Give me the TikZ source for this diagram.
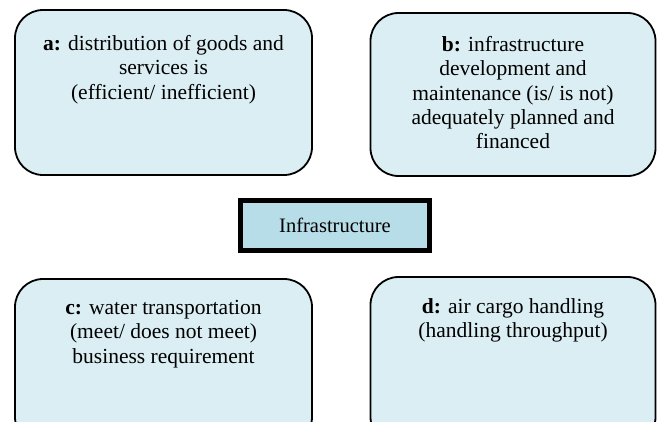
\documentclass[tikz,border=0pt]{standalone}
\usepackage{fontspec}
\setmainfont{Liberation Serif}
\definecolor{panelfill}{HTML}{DBEEF3}
\definecolor{hubfill}{HTML}{B7DDE8}
\begin{document}
\begin{tikzpicture}[x=1pt,y=-1pt,
  panel/.style={draw=black, line width=1.8pt, fill=panelfill, rounded corners=28pt, inner sep=0pt},
  hub/.style={draw=black, line width=5pt, fill=hubfill, inner sep=0pt, font=\fontsize{20.5}{24}\selectfont},
  caption/.style={anchor=north, align=center, inner sep=0pt, font=\fontsize{21.5}{24.3}\selectfont}
]
\useasboundingbox (0,0) rectangle (670,421);
\clip (0,0) rectangle (670,421);

% four question panels
\node[panel, minimum width=297pt, minimum height=165pt] (a) at (163.5,92.5) {};
\node[panel, minimum width=285pt, minimum height=163pt] (b) at (513,94.5) {};
\node[panel, minimum width=297pt, minimum height=166pt] (c) at (163.5,362) {};
\node[panel, minimum width=285pt, minimum height=168pt] (d) at (513,361) {};

% panel texts
\node[caption] (ta) at ([yshift=-26pt]a.north) {\textbf{a:} distribution of goods and\\ services is\\ (efficient/ inefficient)};
\node[caption] (tb) at ([yshift=-24pt]b.north) {\textbf{b:} infrastructure\\ development and\\ maintenance (is/ is not)\\ adequately planned and\\ financed};
\node[caption] (tc) at ([yshift=-22pt]c.north) {\textbf{c:} water transportation\\ (meet/ does not meet)\\ business requirement};
\node[caption] (td) at ([yshift=-22pt]d.north) {\textbf{d:} air cargo handling\\ (handling throughput)};

% central topic
\node[hub, minimum width=189pt, minimum height=50pt] (hub) at (335,225.5) {Infrastructure};
\end{tikzpicture}
\end{document}
